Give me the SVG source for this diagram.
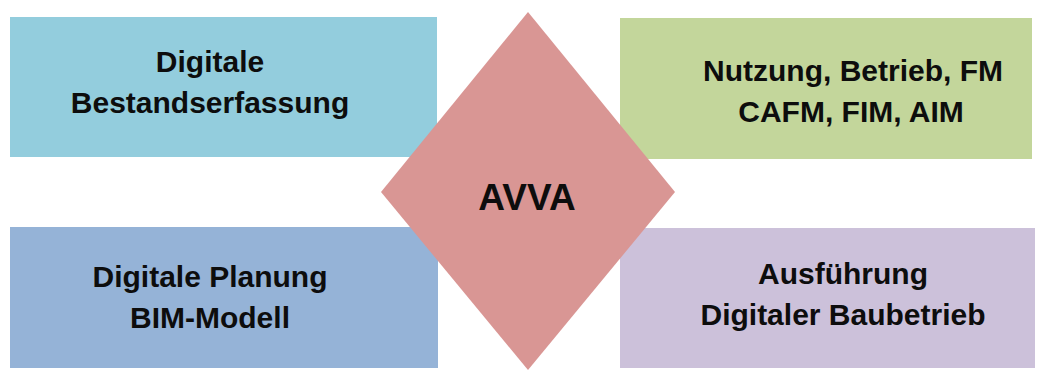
<svg xmlns="http://www.w3.org/2000/svg" width="1040" height="370" viewBox="0 0 1040 370">
  <style>
    .lbl { font-family: "Liberation Sans", Arial, sans-serif; font-weight: bold; font-size: 30px; fill: #0d0d0d; text-anchor: middle; }
    .hub { font-family: "Liberation Sans", Arial, sans-serif; font-weight: bold; font-size: 37px; fill: #0d0d0d; text-anchor: middle; }
  </style>
  <rect width="1040" height="370" fill="#ffffff"/>

  <!-- four phase boxes -->
  <g id="bestand">
    <rect x="10" y="17" width="427" height="140" fill="#93CDDD"/>
    <text class="lbl" x="210" y="72">Digitale</text>
    <text class="lbl" x="210" y="113">Bestandserfassung</text>
  </g>
  <g id="nutzung">
    <rect x="620" y="18" width="412" height="141" fill="#C3D69B"/>
    <text class="lbl" x="853" y="81">Nutzung, Betrieb, FM</text>
    <text class="lbl" x="851" y="122">CAFM, FIM, AIM</text>
  </g>
  <g id="planung">
    <rect x="10" y="227" width="428" height="141" fill="#95B3D7"/>
    <text class="lbl" x="210" y="287">Digitale Planung</text>
    <text class="lbl" x="210" y="328">BIM-Modell</text>
  </g>
  <g id="ausfuehrung">
    <rect x="620" y="228" width="415" height="140" fill="#CCC1DA"/>
    <text class="lbl" x="843" y="284">Ausführung</text>
    <text class="lbl" x="843" y="325">Digitaler Baubetrieb</text>
  </g>

  <!-- central diamond -->
  <g id="avva">
    <polygon points="528,12 675,192 528,370 381,192" fill="#D99694"/>
    <text class="hub" x="527" y="210">AVVA</text>
  </g>

  <g id="connectors"></g>
</svg>
